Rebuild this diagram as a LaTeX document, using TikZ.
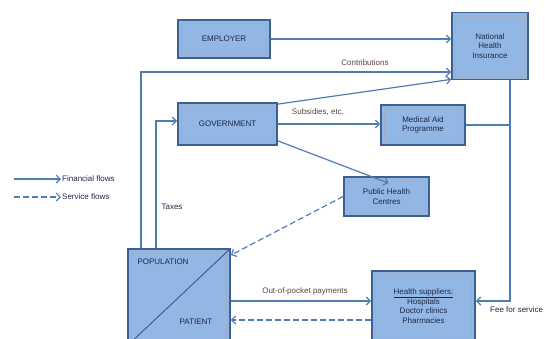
\documentclass[tikz,border=0pt]{standalone}
\usepackage{fontspec}
\setmainfont{Liberation Sans}
\usetikzlibrary{calc,positioning,arrows.meta}

\definecolor{boxfill}{RGB}{146,183,228}
\definecolor{boxline}{RGB}{58,96,148}
\definecolor{flowcol}{RGB}{80,124,180}
\definecolor{labcol}{RGB}{92,66,58}
\definecolor{txtcol}{RGB}{30,40,70}

\begin{document}
\begin{tikzpicture}[x=1pt,y=-1pt,
	every node/.style = {font=\fontsize{8}{9.5}\selectfont, text=txtcol, align=center},
	box/.style = {shape=rectangle, draw=boxline, line width=1.8pt, fill=boxfill,
	  path picture={\draw[boxline!50, line width=0.7pt]
	    ([shift={(3.5pt,3.5pt)}]path picture bounding box.south west) rectangle
	    ([shift={(-3.5pt,-3.5pt)}]path picture bounding box.north east);}},
	flow/.style = {draw=flowcol, line width=1.2pt, -{Straight Barb[length=4pt,width=8pt]}},
	service/.style = {flow, dash pattern=on 6pt off 3pt},
	lab/.style = {text=labcol, inner sep=1pt}
	]
  \useasboundingbox (0,0) rectangle (545,338);

  % boxes
  \node [box, minimum width=92pt, minimum height=38pt] (emp) at (224,39) {EMPLOYER};
  \node [box, minimum width=76pt, minimum height=67pt] (nhi) at (490,46) {National\\Health\\Insurance};
  \node [box, minimum width=99pt, minimum height=42pt] (gov) at (227.5,124) {GOVERNMENT};
  \node [box, minimum width=84pt, minimum height=40pt] (mad) at (423,125) {Medical Aid\\Programme};
  \node [box, minimum width=85pt, minimum height=39pt] (phc) at (386.5,196.5) {Public Health\\Centres};
  \node [box, minimum width=102pt, minimum height=96pt] (pop) at (179,297) {};
  \node [box, minimum width=103pt, minimum height=70pt] (hs) at (423.5,306)
    {\underline{Health suppliers:}\\Hospitals\\Doctor clinics\\Pharmacies};
  \draw [boxline, line width=1pt] (pop.south west) -- (pop.north east);
  \node [anchor=west] (popl) at (134,262) {POPULATION};
  \node (patl) at (196,322) {PATIENT};

  % helper coordinates
  \coordinate (contr) at (141,72);
  \coordinate (tax) at (156,121);
  \coordinate (fee) at (510,301);
  \coordinate (svc) at (0,320);

  % financial flows
  \draw [flow] (emp.east) -- (emp.east -| nhi.west);
  \draw [flow] (pop.north -| contr) |- (nhi.west |- contr);
  \draw [flow] ([yshift=-2pt]gov.north east) -- ([yshift=1pt]nhi.south west);
  \draw [flow] (gov.east) -- (mad.west |- gov.east);
  \draw [flow] ([yshift=5pt]gov.south east) -- ([shift={(2pt,-7pt)}]phc.north);
  \draw [flow] (pop.north -| tax) |- (gov.west |- tax);
  \draw [flow] (nhi.south -| fee) |- (hs.east |- fee);
  \draw [flow, -] (mad.east) -- (mad.east -| fee);
  \draw [flow] (pop.east |- fee) -- (hs.west |- fee);

  % service flows
  \draw [service] (hs.west |- svc) -- (pop.east |- svc);
  \draw [service] (phc.west) -- ([yshift=-7pt]pop.north east);

  % labels
  \node [lab] (lcontr) at (365,63) {Contributions};
  \node [lab] (lsub) at (318,112) {Subsidies, etc.};
  \node [lab, text=txtcol] (ltax) at (172,207) {Taxes};
  \node [lab] (loop) at (305,291) {Out-of-pocket payments};
  \node [lab, anchor=west, text=txtcol] (lfee) at (489,310) {Fee for service};

  % legend
  \coordinate (fa) at (14,179);
  \coordinate (fb) at (61,179);
  \coordinate (sa) at (14,197);
  \coordinate (sb) at (61,197);
  \draw [flow] (fa) -- (fb);
  \draw [service] (sa) -- (sb);
  \node [anchor=west, inner sep=1pt] (lfin) at (fb) {Financial flows};
  \node [anchor=west, inner sep=1pt] (lsvc) at (sb) {Service flows};
\end{tikzpicture}
\end{document}
